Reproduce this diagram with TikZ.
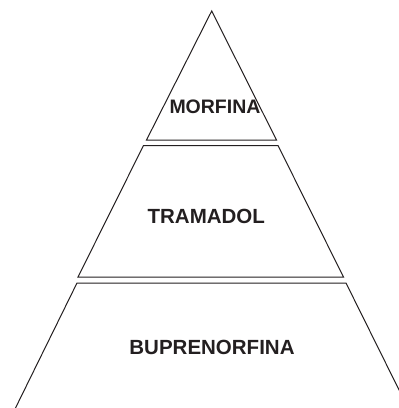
\documentclass[tikz,border=0pt]{standalone}
\usepackage{fontspec}
\setmainfont{Liberation Sans}
\definecolor{ink}{HTML}{231F20}
\begin{document}
\begin{tikzpicture}[x=1pt,y=-1pt,
  edge/.style={draw=ink,line width=1pt,line join=miter},
  lbl/.style={text=ink,font=\bfseries,inner sep=0pt}]
\useasboundingbox (0,0) rectangle (399,408);
\clip (0,0) rectangle (399,408);
% top triangle
\draw[edge] (211.7,11) -- (146.5,140) -- (276.5,140) -- cycle;
% middle trapezoid
\draw[edge] (143.5,145.5) -- (278,145.5) -- (343.5,277) -- (78,277) -- cycle;
% bottom open trapezoid
\draw[edge] (14.5,410) -- (77,283) -- (346,283) -- (410,412);
\node[lbl,font=\bfseries\fontsize{19.5}{22}\selectfont] (morfina) at (215,107) {MORFINA};
\node[lbl,font=\bfseries\fontsize{20.5}{24}\selectfont] (tramadol) at (206.3,216.3) {TRAMADOL};
\node[lbl,font=\bfseries\fontsize{20.5}{24}\selectfont] (bupre) at (212,347.5) {BUPRENORFINA};
\end{tikzpicture}
\end{document}
